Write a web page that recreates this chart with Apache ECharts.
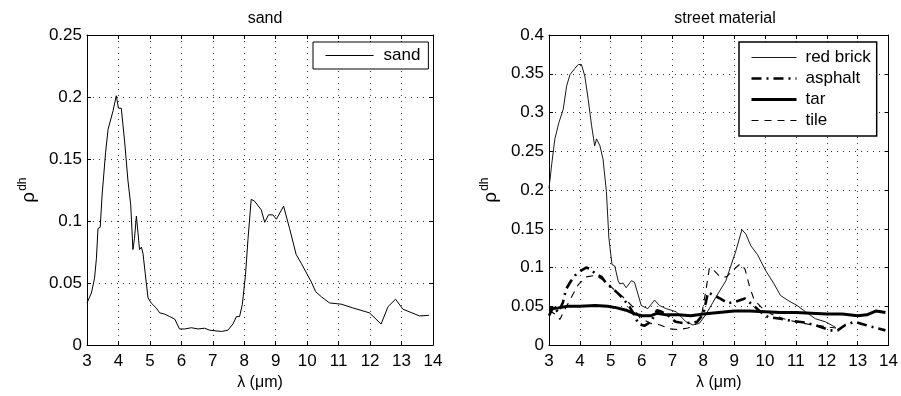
<!DOCTYPE html>
<html>
<head>
<meta charset="utf-8">
<script src="https://cdn.jsdelivr.net/npm/echarts@6/dist/echarts.min.js"></script>
<style>
html,body{margin:0;padding:0;background:#fff;}
#chart{width:901px;height:396px;}
</style>
</head>
<body>
<div id="chart"></div>
<script>
// ---- data ----
var titles = ['sand', 'street material'];
var xTicks = [3, 4, 5, 6, 7, 8, 9, 10, 11, 12, 13, 14];

var sandX = [3.0,3.14,3.24,3.3,3.35,3.42,3.48,3.53,3.59,3.67,3.72,3.83,3.93,4.0,4.09,4.2,4.3,4.39,4.46,4.51,4.57,4.62,4.67,4.73,4.78,4.85,4.94,5.04,5.2,5.31,5.47,5.63,5.79,5.94,6.1,6.32,6.53,6.74,6.9,7.27,7.48,7.64,7.75,7.85,7.94,8.04,8.12,8.22,8.33,8.54,8.65,8.77,8.91,9.02,9.25,9.44,9.65,9.81,10.13,10.27,10.45,10.71,11.08,11.45,11.98,12.35,12.57,12.81,13.04,13.57,13.87];
var sandY = [0.034,0.042,0.054,0.070,0.094,0.095,0.121,0.122,0.155,0.174,0.175,0.189,0.201,0.191,0.191,0.163,0.133,0.113,0.077,0.086,0.104,0.091,0.077,0.079,0.074,0.058,0.038,0.034,0.030,0.026,0.025,0.023,0.021,0.013,0.013,0.014,0.013,0.0136,0.012,0.011,0.012,0.017,0.023,0.023,0.033,0.057,0.086,0.1175,0.116,0.109,0.099,0.105,0.105,0.1015,0.112,0.094,0.073,0.066,0.051,0.043,0.039,0.034,0.033,0.030,0.026,0.017,0.031,0.037,0.029,0.0235,0.024];

var brickX = [3.0,3.09,3.19,3.32,3.46,3.57,3.68,3.84,3.95,4.05,4.16,4.27,4.38,4.48,4.54,4.65,4.75,4.86,4.94,5.04,5.13,5.24,5.29,5.4,5.5,5.67,5.77,5.99,6.2,6.42,6.58,6.8,7.12,7.44,7.66,7.87,8.09,8.41,8.73,9.05,9.25,9.38,9.54,9.75,10.02,10.29,10.5,10.77,11.04,11.31,11.63,11.96,12.28];
var brickY = [0.202,0.234,0.266,0.287,0.304,0.334,0.349,0.357,0.362,0.362,0.347,0.317,0.283,0.257,0.266,0.257,0.240,0.198,0.138,0.104,0.102,0.083,0.079,0.080,0.074,0.083,0.081,0.051,0.047,0.058,0.051,0.047,0.043,0.030,0.026,0.028,0.040,0.062,0.083,0.121,0.149,0.143,0.128,0.117,0.096,0.079,0.064,0.057,0.051,0.043,0.034,0.030,0.023];

var asphaltX = [3.0,3.15,3.3,3.45,3.55,3.7,3.85,4.0,4.2,4.35,4.5,4.7,4.85,5.0,5.2,5.4,5.6,5.75,5.9,6.1,6.3,6.5,6.65,6.9,7.1,7.4,7.8,8.0,8.15,8.3,8.55,8.8,9.05,9.35,9.6,9.85,10.1,10.5,10.9,11.3,11.6,11.9,12.1,12.35,12.6,12.9,13.25,13.6,13.9];
var asphaltY = [0.038,0.050,0.042,0.055,0.072,0.082,0.090,0.095,0.100,0.098,0.092,0.088,0.080,0.075,0.068,0.060,0.050,0.040,0.027,0.025,0.030,0.045,0.043,0.037,0.030,0.028,0.030,0.040,0.068,0.065,0.060,0.054,0.056,0.060,0.052,0.043,0.036,0.034,0.031,0.029,0.026,0.022,0.019,0.019,0.026,0.030,0.026,0.022,0.019];

var tarX = [3.0,3.3,3.6,4.0,4.5,4.9,5.2,5.5,5.8,6.0,6.3,6.5,6.8,7.2,7.6,8.0,8.5,9.0,9.5,10.0,10.5,11.0,11.5,12.0,12.5,13.0,13.3,13.6,13.9];
var tarY = [0.047,0.048,0.050,0.050,0.051,0.050,0.048,0.045,0.040,0.038,0.038,0.041,0.039,0.039,0.038,0.040,0.042,0.044,0.044,0.043,0.042,0.042,0.041,0.040,0.040,0.038,0.039,0.044,0.042];

var tileX = [3.0,3.2,3.35,3.5,3.7,3.95,4.2,4.5,4.8,5.1,5.4,5.7,5.95,6.3,6.6,6.9,7.2,7.5,7.75,7.95,8.08,8.2,8.35,8.55,8.75,9.0,9.2,9.35,9.5,9.65,9.9,10.2,10.6,11.0,11.4,11.8,12.1,12.3];
var tileY = [0.045,0.040,0.033,0.045,0.060,0.078,0.088,0.090,0.083,0.072,0.062,0.050,0.035,0.028,0.026,0.021,0.020,0.022,0.027,0.040,0.070,0.100,0.096,0.088,0.088,0.098,0.105,0.098,0.075,0.058,0.048,0.040,0.034,0.030,0.027,0.025,0.023,0.022];

function pairs(xs, ys) { return xs.map(function (x, i) { return [x, ys[i]]; }); }

var FONT = 'Liberation Sans';
var chart = echarts.init(document.getElementById('chart'), null, {renderer: 'canvas'});

var styles = {
  'sand':      {color: '#000', width: 1, type: 'solid'},
  'red brick': {color: '#000', width: 0.9, type: 'solid'},
  'asphalt':   {color: '#000', width: 2.6, type: [10, 5, 2, 5]},
  'tar':       {color: '#000', width: 3, type: 'solid'},
  'tile':      {color: '#000', width: 1.1, type: [7, 6]}
};
function legendItem(name) {
  return {name: name, lineStyle: styles[name], itemStyle: {opacity: 0}};
}

function mainX(gi) {
  return {
    type: 'value', gridIndex: gi, min: 3, max: 14, interval: 1, position: 'bottom',
    name: 'λ (μm)', nameLocation: 'middle', nameGap: 27,
    nameTextStyle: {fontFamily: FONT, fontSize: 16, color: '#000'},
    axisLine: {show: true, onZero: false, lineStyle: {color: '#000', width: 1}},
    axisTick: {show: true, inside: true, length: 4, lineStyle: {color: '#000'}},
    axisLabel: {fontFamily: FONT, fontSize: 17, color: '#000', margin: 8},
    splitLine: {show: true, lineStyle: {color: '#333', type: [1, 5], width: 1}}
  };
}
function boxX(gi) {
  return {
    type: 'value', gridIndex: gi, min: 3, max: 14, interval: 1, position: 'top',
    axisLine: {show: true, onZero: false, lineStyle: {color: '#000', width: 1}},
    axisTick: {show: true, inside: true, length: 4, lineStyle: {color: '#000'}},
    axisLabel: {show: false}, splitLine: {show: false}
  };
}
function mainY(gi, max, interval, fmt) {
  return {
    type: 'value', gridIndex: gi, min: 0, max: max, interval: interval, position: 'left',
    name: '{r|ρ}{s|dh}', nameLocation: 'middle', nameGap: 46, nameRotate: 90,
    nameTextStyle: {
      color: '#000',
      rich: {
        r: {fontFamily: FONT, fontSize: 19, color: '#000'},
        s: {fontFamily: FONT, fontSize: 12, color: '#000', padding: [0, 0, 12, 1]}
      }
    },
    axisLine: {show: true, onZero: false, lineStyle: {color: '#000', width: 1}},
    axisTick: {show: true, inside: true, length: 4, lineStyle: {color: '#000'}},
    axisLabel: {fontFamily: FONT, fontSize: 17, color: '#000', margin: 5, formatter: fmt},
    splitLine: {show: true, lineStyle: {color: '#333', type: [1, 5], width: 1}}
  };
}
function boxY(gi, max, interval) {
  return {
    type: 'value', gridIndex: gi, min: 0, max: max, interval: interval, position: 'right',
    axisLine: {show: true, onZero: false, lineStyle: {color: '#000', width: 1}},
    axisTick: {show: true, inside: true, length: 4, lineStyle: {color: '#000'}},
    axisLabel: {show: false}, splitLine: {show: false}
  };
}
function fmtNum(v) {
  if (Math.abs(v) < 1e-9) return '0';
  return String(Math.round(v * 1000) / 1000);
}
function lineSeries(name, xi, yi, data) {
  return {name: name, type: 'line', xAxisIndex: xi, yAxisIndex: yi, data: data,
          symbol: 'none', lineStyle: styles[name], itemStyle: {color: '#000'}};
}

var option = {
  animation: false,
  backgroundColor: '#fff',
  title: [
    {text: titles[0], left: 260, top: 6, textAlign: 'center',
     textStyle: {fontFamily: FONT, fontSize: 16, fontWeight: 'normal', color: '#000'}},
    {text: titles[1], left: 720, top: 6, textAlign: 'center',
     textStyle: {fontFamily: FONT, fontSize: 16, fontWeight: 'normal', color: '#000'}}
  ],
  grid: [
    {left: 87, right: 468, top: 35, bottom: 48, containLabel: false},
    {left: 549, right: 11, top: 35, bottom: 48, containLabel: false}
  ],
  xAxis: [mainX(0), boxX(0), mainX(1), boxX(1)],
  yAxis: [mainY(0, 0.25, 0.05, fmtNum), boxY(0, 0.25, 0.05), mainY(1, 0.4, 0.05, fmtNum), boxY(1, 0.4, 0.05)],
  legend: [
    {
      data: [legendItem('sand')], left: 313, top: 42, orient: 'vertical',
      padding: [5, 8, 5, 12], borderColor: '#000', borderWidth: 1, backgroundColor: '#fff',
      itemWidth: 48, itemHeight: 14, itemGap: 4,
      itemStyle: {opacity: 0},
      textStyle: {fontFamily: FONT, fontSize: 17, color: '#000', padding: [0, 0, 0, 5]}
    },
    {
      data: ['red brick', 'asphalt', 'tar', 'tile'].map(legendItem), left: 739, top: 42, orient: 'vertical',
      padding: [7, 6, 7, 11], borderColor: '#000', borderWidth: 1.5, backgroundColor: '#fff',
      itemWidth: 45, itemHeight: 14, itemGap: 4,
      itemStyle: {opacity: 0},
      textStyle: {fontFamily: FONT, fontSize: 17, color: '#000', lineHeight: 17, padding: [0, 0, 0, 4]}
    }
  ],
  series: [
    lineSeries('sand', 0, 0, pairs(sandX, sandY)),
    lineSeries('red brick', 2, 2, pairs(brickX, brickY)),
    lineSeries('asphalt', 2, 2, pairs(asphaltX, asphaltY)),
    lineSeries('tar', 2, 2, pairs(tarX, tarY)),
    lineSeries('tile', 2, 2, pairs(tileX, tileY))
  ]
};
chart.setOption(option);
</script>
</body>
</html>
